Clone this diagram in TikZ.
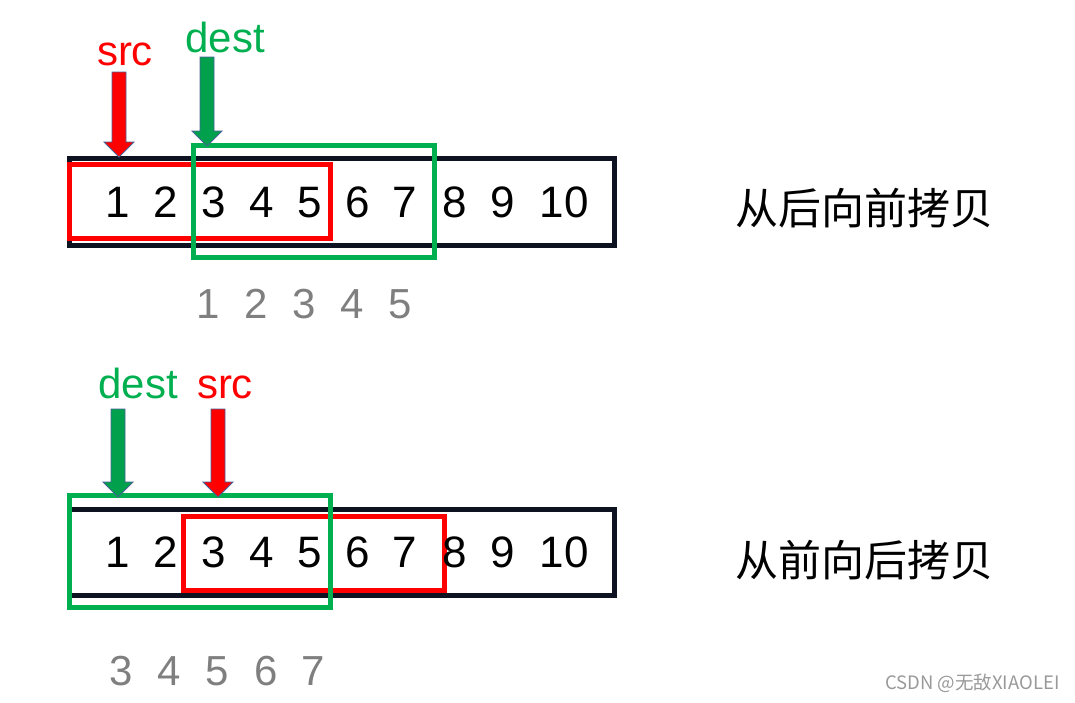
\documentclass[tikz,border=0pt]{standalone}
\usepackage{fontspec}
\setmainfont{Liberation Sans}
\newfontfamily\cjkfont{Noto Sans CJK SC}
\usepackage{tikz}
\usetikzlibrary{calc}

\definecolor{boxred}{RGB}{255,0,0}
\definecolor{boxgreen}{RGB}{0,176,80}
\definecolor{arrowgreen}{RGB}{0,160,76}
\definecolor{arrowedge}{RGB}{70,100,150}
\definecolor{boxblack}{RGB}{13,19,33}
\definecolor{idxgray}{RGB}{127,127,127}

\newcommand{\fatarrow}[3]{%
  \filldraw[fill=#3, draw=arrowedge, line width=0.8pt, line join=miter]
    ($(#1)+(-7,0)$) -- ($(#1)+(7,0)$) -- ($(#2)+(7,-15)$) -- ($(#2)+(15,-15)$)
    -- (#2) -- ($(#2)+(-15,-15)$) -- ($(#2)+(-7,-15)$) -- cycle;}

\begin{document}
\begin{tikzpicture}[x=1pt,y=-1pt,
    num/.style={font=\fontsize{44}{44}\selectfont, anchor=base, inner sep=0pt},
    idx/.style={font=\fontsize{42}{42}\selectfont, anchor=base, inner sep=0pt, text=idxgray},
    tag/.style={font=\fontsize{42}{42}\selectfont, anchor=base, inner sep=0pt},
    note/.style={font=\cjkfont\fontsize{43}{43}\selectfont, anchor=base, inner sep=0pt},
    frame/.style={line width=5pt}]
       \useasboundingbox (0,0) rectangle (1075,702);

       % upper array: copy from back to front
       \draw[frame, boxblack] (69,158) rectangle (614.5,245.5);
       \draw[frame, boxred] (69,164) rectangle (330,238.5);
       \draw[frame, boxgreen] (193,145.5) rectangle (434.5,257.5);
       \foreach \n/\x in {1/118,2/166,3/214,4/262,5/310,6/358,7/405,8/455,9/503,10/564}
         \node[num] (up\n) at (\x,217) {\n};
       \foreach \n/\x in {1/208,2/256,3/304,4/352,5/400}
         \node[idx] (upidx\n) at (\x,318) {\n};

       \node[tag, text=boxred] (srcA) at (125,65) {src};
       \node[tag, text=boxgreen] (destA) at (225,52) {dest};
       \coordinate (srcAtail) at (119,72);
       \coordinate (srcAtip) at (119,157);
       \coordinate (destAtail) at (207,57);
       \coordinate (destAtip) at (207,146);
       \fatarrow{srcAtail}{srcAtip}{boxred}
       \fatarrow{destAtail}{destAtip}{arrowgreen}

       \node[note] (backfront) at (864,224) {从后向前拷贝};

       % lower array: copy from front to back
       \draw[frame, boxblack] (69,509) rectangle (614.5,595.5);
       \draw[frame, boxred] (183,516.5) rectangle (444.5,590.5);
       \draw[frame, boxgreen] (69,495.5) rectangle (330,607.5);
       \foreach \n/\x in {1/118,2/166,3/214,4/262,5/310,6/358,7/405,8/455,9/503,10/564}
         \node[num] (lo\n) at (\x,567) {\n};
       \foreach \n/\x in {3/121,4/169,5/217,6/266,7/313}
         \node[idx] (loidx\n) at (\x,685) {\n};

       \node[tag, text=boxgreen] (destB) at (138,398) {dest};
       \node[tag, text=boxred] (srcB) at (225,398) {src};
       \coordinate (destBtail) at (118,409);
       \coordinate (destBtip) at (118,497);
       \coordinate (srcBtail) at (218,409);
       \coordinate (srcBtip) at (218,497);
       \fatarrow{destBtail}{destBtip}{arrowgreen}
       \fatarrow{srcBtail}{srcBtip}{boxred}

       \node[note] (frontback) at (864,576) {从前向后拷贝};

       \node[font=\cjkfont\fontsize{18.5}{18.5}\selectfont, text=black!40, anchor=base west, inner sep=0pt] (mark) at (885,689) {CSDN @无敌XIAOLEI};
\end{tikzpicture}
\end{document}
